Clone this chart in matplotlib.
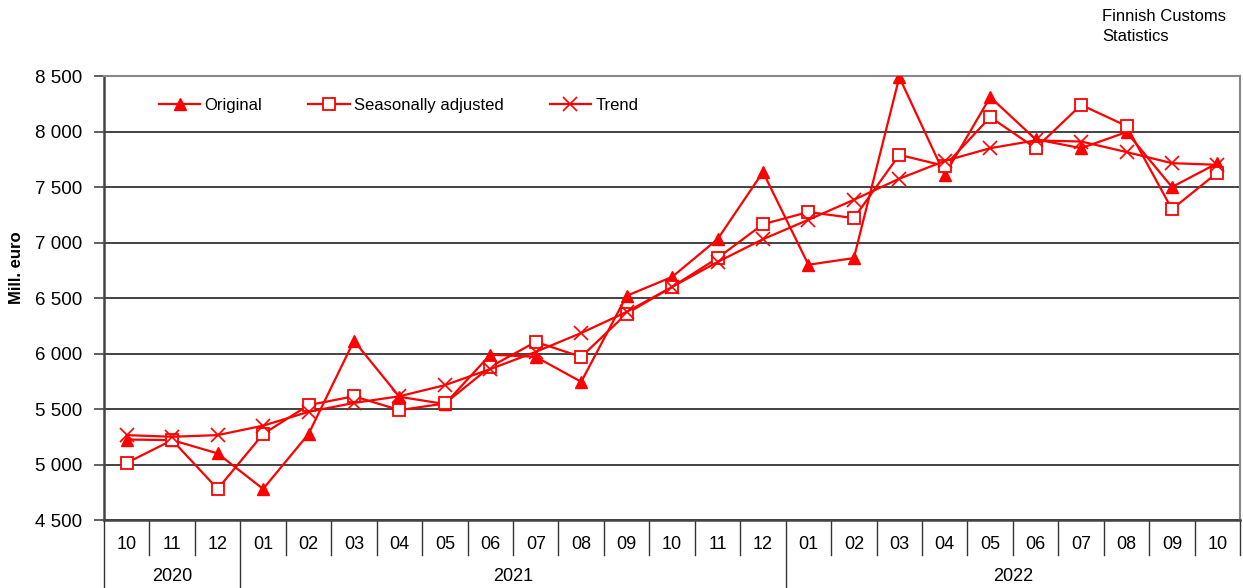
import matplotlib
matplotlib.use("Agg")
import matplotlib.pyplot as plt
import matplotlib.transforms as mtransforms
from matplotlib.ticker import FuncFormatter, MultipleLocator

plt.rcParams["font.family"] = ["Liberation Sans", "DejaVu Sans"]

# --- data (Mill. euro) ---
months = ["10", "11", "12",
          "01", "02", "03", "04", "05", "06", "07", "08", "09", "10", "11", "12",
          "01", "02", "03", "04", "05", "06", "07", "08", "09", "10"]
years = ["2020", "2021", "2022"]
year_spans = [(0, 3), (3, 15), (15, 25)]

original = [5225, 5220, 5100, 4780, 5275, 6115, 5610, 5545, 5990, 5970,
            5745, 6520, 6690, 7030, 7635, 6800, 6860, 8490, 7610, 8310,
            7930, 7850, 7995, 7500, 7715]
seas_adj = [5015, 5220, 4780, 5275, 5535, 5615, 5490, 5550, 5880, 6105,
            5970, 6360, 6600, 6860, 7165, 7275, 7220, 7790, 7690, 8130,
            7850, 8240, 8050, 7300, 7630]
trend = [5265, 5250, 5265, 5350, 5475, 5555, 5615, 5715, 5860, 6015,
         6185, 6375, 6600, 6825, 7030, 7205, 7385, 7575, 7735, 7850,
         7920, 7910, 7815, 7715, 7700]

red = "#ff0000"
x = list(range(len(months)))

fig = plt.figure(figsize=(12.43, 5.88), dpi=100)
ax = fig.add_axes([0.0837, 0.1156, 0.9140, 0.7551])

ax.plot(x, original, color=red, lw=1.6, marker="^", ms=9,
        mfc=red, mec=red, label="Original", zorder=3)
ax.plot(x, seas_adj, color=red, lw=1.6, marker="s", ms=9,
        mfc="white", mec=red, mew=1.3, label="Seasonally adjusted", zorder=3)
ax.plot(x, trend, color=red, lw=1.6, marker="x", ms=10,
        mew=1.2, label="Trend", zorder=3)

ax.set_xlim(-0.5, len(months) - 0.5)
ax.set_ylim(4500, 8500)
ax.yaxis.set_major_locator(MultipleLocator(500))
ax.yaxis.set_major_formatter(FuncFormatter(lambda v, p: f"{int(v):,}".replace(",", " ")))
ax.grid(axis="y", color="#222222", lw=1.2)
ax.set_axisbelow(True)
ax.tick_params(axis="y", labelsize=13.5, length=7, width=1.2, color="#444444", pad=9)
ax.set_xticks([])

for side in ["top", "right"]:
    ax.spines[side].set_color("#888888")
    ax.spines[side].set_linewidth(1.5)
ax.spines["left"].set_color("#444444")
ax.spines["left"].set_linewidth(1.8)
ax.spines["bottom"].set_color("#444444")
ax.spines["bottom"].set_linewidth(1.8)

fig.text(17 / 1243, 1 - 268 / 588, "Mill. euro", rotation=90, ha="center",
         va="center", fontsize=12, fontweight="bold")

# category axis: month labels, separators, years
trans = mtransforms.blended_transform_factory(ax.transData, ax.transAxes)
for i, m in enumerate(months):
    ax.text(i, -0.054, m, transform=trans, ha="center", va="center", fontsize=13)
year_edges = {s for s, e in year_spans}
for b in range(len(months) + 1):
    low = -0.153 if b in year_edges else -0.079
    ax.plot([b - 0.5, b - 0.5], [0, low], transform=trans, color="#333333",
            lw=1.0, clip_on=False)
for label, (s, e) in zip(years, year_spans):
    ax.text((s + e - 1) / 2, -0.128, label, transform=trans, ha="center",
            va="center", fontsize=13)

ax.legend(loc="upper left", bbox_to_anchor=(0.035, 0.985), ncol=3, frameon=False,
          fontsize=12, handlelength=2.5, columnspacing=2.75, handletextpad=0.25)

fig.text(1102 / 1243, 0.984, "Finnish Customs\nStatistics", ha="left", va="top",
         fontsize=12, linespacing=1.35)

fig.savefig("out.png", dpi=100)
